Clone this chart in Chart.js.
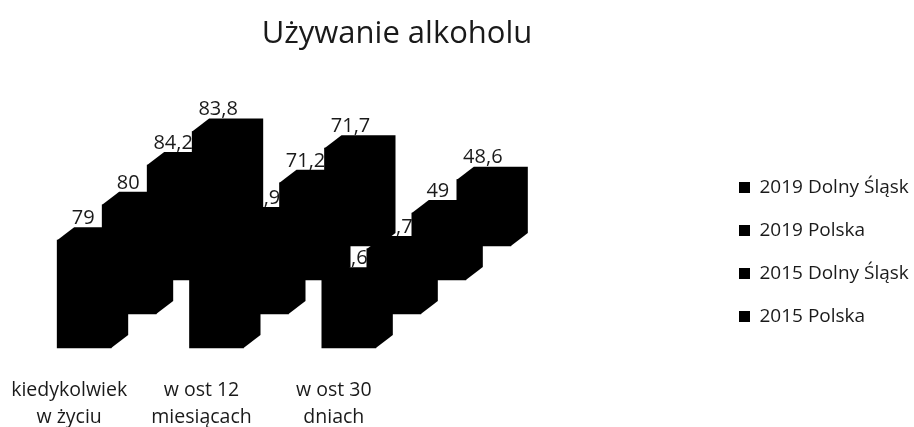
<!DOCTYPE html>
<html lang="pl">
<head>
<meta charset="utf-8">
<style>html,body{margin:0;padding:0;background:#fff}canvas{display:block}</style>
<script src="https://cdn.jsdelivr.net/npm/chart.js@4"></script>
</head>
<body>
<div style="width:914px;height:427px"><canvas id="c" width="914" height="427"></canvas></div>
<script>
const categories = [["kiedykolwiek","w życiu"],["w ost 12","miesiącach"],["w ost 30","dniach"]];
const seriesNames = ["2019 Dolny Śląsk","2019 Polska","2015 Dolny Śląsk","2015 Polska"];
const dolny2019 = [79, 67.6, 49.6];
const polska2019 = [80, 68.9, 47.7];
const dolny2015 = [84.2, 71.2, 49];
const polska2015 = [83.8, 71.7, 48.6];
const seriesValues = [dolny2019, polska2019, dolny2015, polska2015];
const FONT = '"Open Sans", sans-serif';
const stepX = 45, stepY = -34, depthX = 17, depthY = 13;

const extrude = {
  id: 'extrude',
  beforeDatasetDraw(chart, args) {
    const ctx = chart.ctx;
    ctx.save();
    ctx.translate(args.index * stepX, args.index * stepY);
    ctx.fillStyle = '#000';
    args.meta.data.forEach(el => {
      const x0 = el.x - el.width / 2, x1 = el.x + el.width / 2;
      ctx.beginPath();
      ctx.moveTo(x0, el.y);
      ctx.lineTo(x0 + depthX, el.y - depthY);
      ctx.lineTo(x1 + depthX, el.y - depthY);
      ctx.lineTo(x1 + depthX, el.base - depthY);
      ctx.lineTo(x1, el.base);
      ctx.closePath();
      ctx.fill();
    });
  },
  afterDatasetDraw(chart, args) {
    const ctx = chart.ctx;
    ctx.fillStyle = '#1a1a1a';
    ctx.font = '20px ' + FONT;
    ctx.textAlign = 'center';
    ctx.textBaseline = 'middle';
    args.meta.data.forEach((el, i) => {
      const v = chart.data.datasets[args.index].data[i];
      ctx.fillText(String(v).replace('.', ','), el.x - 1, el.y - depthY - 9);
    });
    ctx.restore();
  },
  afterLayout(chart) {
    const t = chart.titleBlock;
    t.left = 0; t.right = 794; t.width = 794;
    t.top = 5.4; t.bottom = 62;
    const l = chart.legend;
    l.left = 715; l.right = 914; l.width = 199;
    l.top = 154; l.bottom = 427; l.height = 273;
  }
};

new Chart(document.getElementById('c'), {
  type: 'bar',
  data: {
    labels: categories,
    datasets: seriesNames.map((name, i) => ({
      label: name,
      data: seriesValues[i],
      backgroundColor: '#000',
      borderWidth: 0,
      order: 3 - i,
      clip: false,
      grouped: false,
      barThickness: 54
    }))
  },
  plugins: [extrude],
  options: {
    responsive: false,
    animation: false,
    layout: { padding: { left: 18, right: 499, top: 17.8, bottom: 0 } },
    plugins: {
      tooltip: { enabled: false },
      title: {
        display: true,
        text: 'Używanie alkoholu',
        color: '#1a1a1a',
        font: { family: FONT, size: 31, weight: 'normal' },
        padding: { top: 10, bottom: 10 }
      },
      legend: {
        position: 'chartArea',
        align: 'start',
        labels: {
          boxWidth: 11, boxHeight: 11,
          padding: 24,
          color: '#1a1a1a',
          font: { family: FONT, size: 19 },
          sort: (a, b) => a.datasetIndex - b.datasetIndex
        }
      }
    },
    scales: {
      x: {
        grid: { display: false, drawTicks: false },
        border: { display: false },
        afterFit(s) { s.height = 79; s.paddingLeft = 0; s.paddingRight = 0; },
        ticks: {
          color: '#1a1a1a',
          font: { family: FONT, size: 19.5, lineHeight: 1.385 },
          padding: 29, labelOffset: -15,
          maxRotation: 0, minRotation: 0, autoSkip: false
        }
      },
      y: { display: false, min: 0, max: 200 }
    }
  }
});
</script>
</body>
</html>
